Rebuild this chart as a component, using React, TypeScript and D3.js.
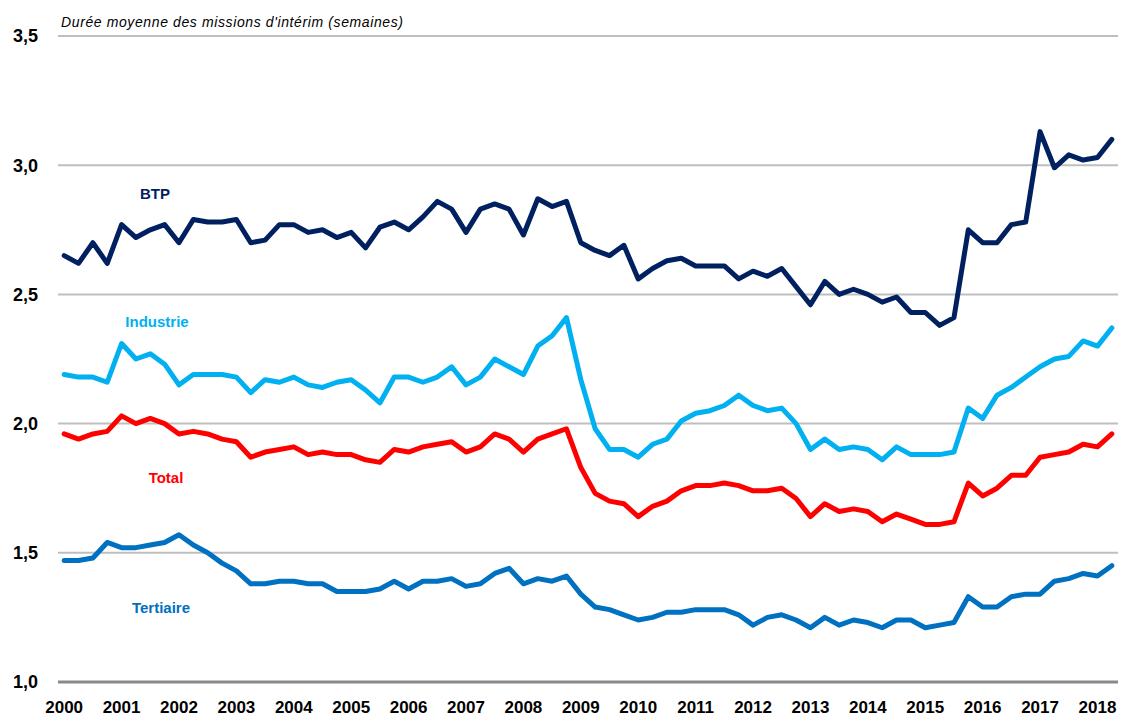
import React, { useEffect, useRef } from "react";
import * as d3 from "d3";

// quarterly data, 2000 T1 -> 2018 T2
const years = d3.range(2000, 2019);
const quarters = years.flatMap((y) => [1, 2, 3, 4].map((q) => `${y}T${q}`)).slice(0, 74);

const btp = [
  2.65, 2.62, 2.70, 2.62, 2.77, 2.72, 2.75, 2.77, 2.70, 2.79, 2.78, 2.78, 2.79, 2.70, 2.71, 2.77,
  2.77, 2.74, 2.75, 2.72, 2.74, 2.68, 2.76, 2.78, 2.75, 2.80, 2.86, 2.83, 2.74, 2.83, 2.85, 2.83,
  2.73, 2.87, 2.84, 2.86, 2.70, 2.67, 2.65, 2.69, 2.56, 2.60, 2.63, 2.64, 2.61, 2.61, 2.61, 2.56,
  2.59, 2.57, 2.60, 2.53, 2.46, 2.55, 2.50, 2.52, 2.50, 2.47, 2.49, 2.43, 2.43, 2.38, 2.41, 2.75,
  2.70, 2.70, 2.77, 2.78, 3.13, 2.99, 3.04, 3.02, 3.03, 3.10,
];
const industrie = [
  2.19, 2.18, 2.18, 2.16, 2.31, 2.25, 2.27, 2.23, 2.15, 2.19, 2.19, 2.19, 2.18, 2.12, 2.17, 2.16,
  2.18, 2.15, 2.14, 2.16, 2.17, 2.13, 2.08, 2.18, 2.18, 2.16, 2.18, 2.22, 2.15, 2.18, 2.25, 2.22,
  2.19, 2.30, 2.34, 2.41, 2.17, 1.98, 1.90, 1.90, 1.87, 1.92, 1.94, 2.01, 2.04, 2.05, 2.07, 2.11,
  2.07, 2.05, 2.06, 2.00, 1.90, 1.94, 1.90, 1.91, 1.90, 1.86, 1.91, 1.88, 1.88, 1.88, 1.89, 2.06,
  2.02, 2.11, 2.14, 2.18, 2.22, 2.25, 2.26, 2.32, 2.30, 2.37,
];
const total = [
  1.96, 1.94, 1.96, 1.97, 2.03, 2.00, 2.02, 2.00, 1.96, 1.97, 1.96, 1.94, 1.93, 1.87, 1.89, 1.90,
  1.91, 1.88, 1.89, 1.88, 1.88, 1.86, 1.85, 1.90, 1.89, 1.91, 1.92, 1.93, 1.89, 1.91, 1.96, 1.94,
  1.89, 1.94, 1.96, 1.98, 1.83, 1.73, 1.70, 1.69, 1.64, 1.68, 1.70, 1.74, 1.76, 1.76, 1.77, 1.76,
  1.74, 1.74, 1.75, 1.71, 1.64, 1.69, 1.66, 1.67, 1.66, 1.62, 1.65, 1.63, 1.61, 1.61, 1.62, 1.77,
  1.72, 1.75, 1.80, 1.80, 1.87, 1.88, 1.89, 1.92, 1.91, 1.96,
];
const tertiaire = [
  1.47, 1.47, 1.48, 1.54, 1.52, 1.52, 1.53, 1.54, 1.57, 1.53, 1.50, 1.46, 1.43, 1.38, 1.38, 1.39,
  1.39, 1.38, 1.38, 1.35, 1.35, 1.35, 1.36, 1.39, 1.36, 1.39, 1.39, 1.40, 1.37, 1.38, 1.42, 1.44,
  1.38, 1.40, 1.39, 1.41, 1.34, 1.29, 1.28, 1.26, 1.24, 1.25, 1.27, 1.27, 1.28, 1.28, 1.28, 1.26,
  1.22, 1.25, 1.26, 1.24, 1.21, 1.25, 1.22, 1.24, 1.23, 1.21, 1.24, 1.24, 1.21, 1.22, 1.23, 1.33,
  1.29, 1.29, 1.33, 1.34, 1.34, 1.39, 1.40, 1.42, 1.41, 1.45,
];

const yTicks = [1.0, 1.5, 2.0, 2.5, 3.0, 3.5];

const series = [
  { name: "BTP", values: btp, color: "#002060", labelAt: [155, 194] },
  { name: "Industrie", values: industrie, color: "#00B0F0", labelAt: [157, 322] },
  { name: "Total", values: total, color: "#FF0000", labelAt: [166, 478] },
  { name: "Tertiaire", values: tertiaire, color: "#0070C0", labelAt: [161, 608] },
];

export default function App() {
  const ref = useRef(null);

  useEffect(() => {
    const width = 1121;
    const height = 718;
    const font = "'Liberation Sans', Arial, sans-serif";

    d3.select(ref.current).selectAll("*").remove();

    const svg = d3
      .select(ref.current)
      .append("svg")
      .attr("width", width)
      .attr("height", height)
      .style("position", "absolute")
      .style("left", 0)
      .style("top", 0)
      .style("background", "#fff");

    const x = d3.scalePoint().domain(quarters).range([57, 1119]).padding(0.5);
    const y = d3.scaleLinear().domain([1, 3.5]).range([682, 36]);

    // grid
    svg
      .append("g")
      .selectAll("line")
      .data(yTicks)
      .join("line")
      .attr("x1", 58)
      .attr("x2", 1118)
      .attr("y1", (d) => y(d))
      .attr("y2", (d) => y(d))
      .attr("stroke", (d) => (d === 1 ? "#898989" : "#BFBFBF"))
      .attr("stroke-width", (d) => (d === 1 ? 3 : 2));

    // y labels
    svg
      .append("g")
      .attr("font-family", font)
      .attr("font-weight", "bold")
      .attr("font-size", 18)
      .attr("text-anchor", "end")
      .selectAll("text")
      .data(yTicks)
      .join("text")
      .attr("x", 38)
      .attr("y", (d) => y(d))
      .attr("dy", "0.35em")
      .attr("fill", "#000")
      .text((d) => d3.format(".1f")(d).replace(".", ","));

    // x labels (first quarter of each year)
    svg
      .append("g")
      .attr("font-family", font)
      .attr("font-weight", "bold")
      .attr("font-size", 17)
      .attr("text-anchor", "middle")
      .selectAll("text")
      .data(years)
      .join("text")
      .attr("x", (d) => x(`${d}T1`))
      .attr("y", 713)
      .attr("fill", "#000")
      .text((d) => d);

    // title
    svg
      .append("text")
      .attr("x", 61)
      .attr("y", 27)
      .attr("font-family", font)
      .attr("font-style", "italic")
      .attr("font-size", 14)
      .attr("textLength", 342)
      .attr("fill", "#000")
      .text("Durée moyenne des missions d'intérim (semaines)");

    const line = d3
      .line<number>()
      .x((d, i) => x(quarters[i]))
      .y((d) => y(d));

    svg
      .append("g")
      .selectAll("path")
      .data(series)
      .join("path")
      .attr("d", (d) => line(d.values))
      .attr("fill", "none")
      .attr("stroke", (d) => d.color)
      .attr("stroke-width", 5)
      .attr("stroke-linejoin", "round")
      .attr("stroke-linecap", "round");

    // series labels
    svg
      .append("g")
      .attr("font-family", font)
      .attr("font-weight", "bold")
      .attr("font-size", 15)
      .attr("text-anchor", "middle")
      .selectAll("text")
      .data(series)
      .join("text")
      .attr("x", (d) => d.labelAt[0])
      .attr("y", (d) => d.labelAt[1])
      .attr("dy", "0.35em")
      .attr("fill", (d) => d.color)
      .text((d) => d.name);
  }, []);

  return <div ref={ref}></div>;
}
